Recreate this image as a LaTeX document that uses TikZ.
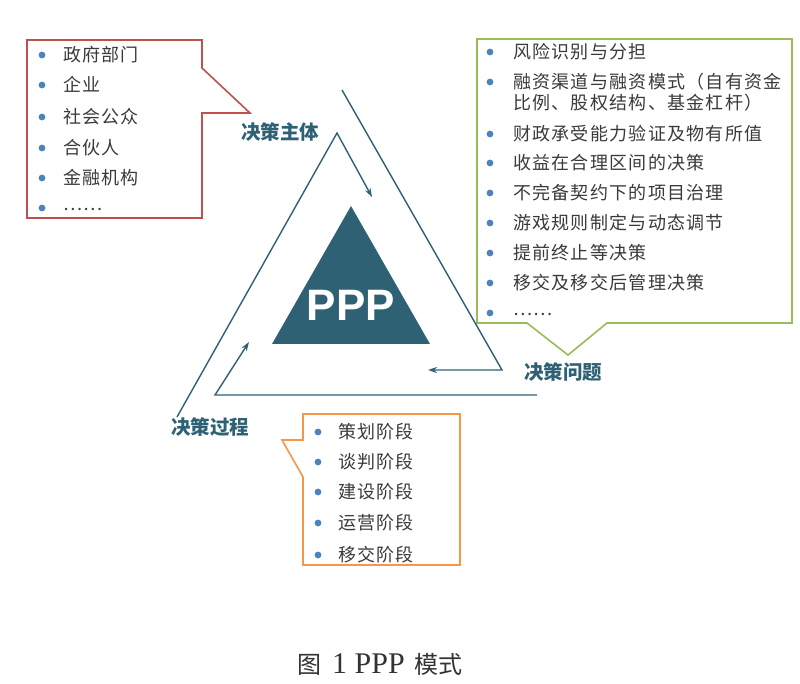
\documentclass[tikz,border=0pt]{standalone}
\usepackage{fontspec}
\setmainfont{Liberation Serif}
\newfontfamily\cjk{Noto Sans CJK SC}
\newfontfamily\cjkls[LetterSpace=7]{Noto Sans CJK SC}
\newfontfamily\pppfont{Liberation Sans}
\usetikzlibrary{arrows.meta}
\definecolor{redc}{HTML}{C0504D}
\definecolor{greenc}{HTML}{9BBB59}
\definecolor{orangec}{HTML}{F79646}
\definecolor{bulc}{HTML}{4F81BD}
\definecolor{tealc}{HTML}{2F6175}
\definecolor{txtc}{HTML}{3A3A3A}
\tikzset{
  itemtext/.style={anchor=base west, inner sep=0pt, text=txtc, font=\cjkls\fontsize{18}{18}\selectfont},
  labtext/.style={inner sep=0pt, text=tealc, font=\cjk\bfseries\fontsize{19.5}{20}\selectfont},
  flow/.style={draw=tealc, line width=1.4pt, -{Stealth[length=9pt,width=6pt]}},
  bul/.style={fill=bulc},
  boxline/.style={line width=1.6pt, line join=miter}
}
\begin{document}
\begin{tikzpicture}[x=1pt,y=-1pt]
\fill[white] (0,0) rectangle (800,684);
\useasboundingbox (0,0) rectangle (800,684);

% red callout
\draw[boxline, draw=redc] (27,40) -- (202,40) -- (202,68) -- (250,113) -- (202,113) -- (202,218) -- (27,218) -- cycle;
\foreach \y/\t [count=\i] in {55/政府部门,85/企业,117/社会公众,148/合伙人,178/金融机构}{
  \fill[bul] (42,\y) circle (3.4);
  \node[itemtext] (r\i) at (63,\y+6.5) {\t};
}
\fill[bul] (42,208) circle (3.4);
\node[itemtext] (r6) at (63,211) {……};
\node[labtext] (lzt) at (280,132) {决策主体};

% green callout
\draw[boxline, draw=greenc] (477,39) -- (792,39) -- (792,323) -- (607,323) -- (568,355) -- (527,323) -- (477,323) -- cycle;
\foreach \y/\t [count=\i] in {52/风险识别与分担,82/融资渠道与融资模式（自有资金,134/财政承受能力验证及物有所值,163/收益在合理区间的决策,193/不完备契约下的项目治理,223/游戏规则制定与动态调节,253/提前终止等决策,283/移交及移交后管理决策}{
  \fill[bul] (490,\y) circle (3.4);
  \node[itemtext] (g\i) at (513,\y+6.5) {\t};
}
\fill[bul] (490,313) circle (3.4);
\node[itemtext] (g9) at (513,316) {……};
\node[itemtext] (g2b) at (513,109.5) {比例、股权结构、基金杠杆）};
\node[labtext] (lwt) at (563,372) {决策问题};

% orange callout
\draw[boxline, draw=orangec] (303,414) -- (460,414) -- (460,565) -- (303,565) -- (303,477) -- (282,440) -- (303,440) -- cycle;
\foreach \y/\t [count=\i] in {432/策划阶段,462/谈判阶段,492/建设阶段,523/运营阶段,555/移交阶段}{
  \fill[bul] (318,\y) circle (3.4);
  \node[itemtext] (o\i) at (338,\y+6.5) {\t};
}
\node[labtext] (lgc) at (210,427) {决策过程};

% cycle arrows
\draw[flow] (177,417) -- (337,133) -- (372,197);
\draw[flow] (342,90) -- (502,370) -- (428,370);
\draw[flow] (537,395) -- (215,395) -- (249,342);

% central triangle
\fill[tealc] (351,206) -- (430,344) -- (272,344) -- cycle;
\node[inner sep=0pt, text=white, font=\pppfont\bfseries\fontsize{44}{44}\selectfont] (ppp) at (351,305) {PPP};

% caption
\node[inner sep=0pt, anchor=base west, text=black!80, font=\fontsize{30}{30}\selectfont] (cap) at (297,673) {{\cjk\fontsize{24}{24}\selectfont 图}\hspace{11pt}1 PPP\hspace{10pt}{\cjk\fontsize{24}{24}\selectfont 模式}};
\end{tikzpicture}
\end{document}
